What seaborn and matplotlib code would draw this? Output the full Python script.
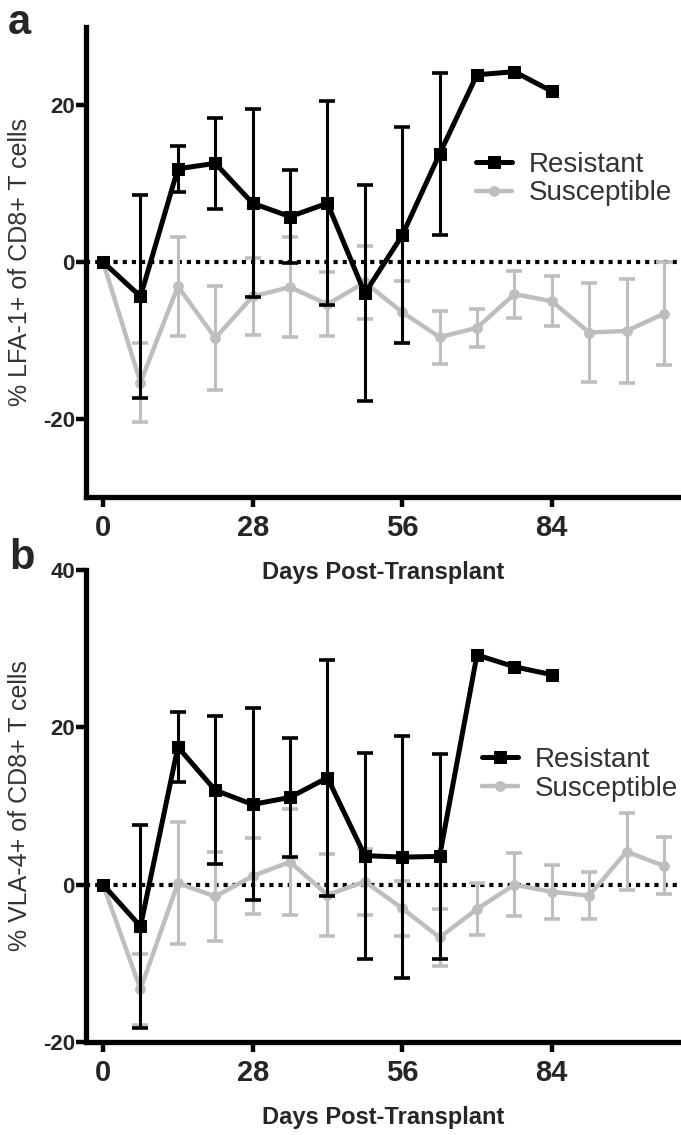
import numpy as np
import pandas as pd
import seaborn as sns
from matplotlib import pyplot as plt

# Matplotlib config
sns.set_style("ticks")
plt.rcParams["font.family"] = ["Liberation Sans", "DejaVu Sans"]
plt.rcParams["axes.unicode_minus"] = False

# Days post-transplant (weekly sampling)
DAYS = [0, 7, 14, 21, 28, 35, 42, 49, 56, 63, 70, 77, 84, 91, 98, 105]
RES_DAYS = DAYS[:13]

# Panel a: % LFA-1+ of CD8+ T cells
LFA_RES_MEAN = [0, -4.4, 11.9, 12.6, 7.5, 5.8, 7.5, -4.0, 3.4, 13.8, 23.9, 24.3, 21.8]
LFA_RES_SEM = [0, 12.9, 2.9, 5.8, 12.0, 5.9, 13.0, 13.8, 13.8, 10.3, 0, 0, 0]
LFA_SUS_MEAN = [0, -15.4, -3.1, -9.7, -4.4, -3.2, -5.4, -2.6, -6.4, -9.6, -8.4,
                -4.1, -5.0, -9.0, -8.8, -6.6]
LFA_SUS_SEM = [0, 5.0, 6.3, 6.6, 4.9, 6.4, 4.1, 4.7, 4.0, 3.4, 2.4, 3.0, 3.2,
               6.3, 6.6, 6.6]

# Panel b: % VLA-4+ of CD8+ T cells
VLA_RES_MEAN = [0, -5.3, 17.5, 12.0, 10.2, 11.1, 13.6, 3.7, 3.5, 3.6, 29.2, 27.7, 26.7]
VLA_RES_SEM = [0, 12.9, 4.4, 9.4, 12.2, 7.6, 15.0, 13.1, 15.4, 13.0, 0, 0, 0]
VLA_SUS_MEAN = [0, -13.3, 0.2, -1.5, 1.1, 2.9, -1.3, 0.4, -3.0, -6.7, -3.1,
                0.0, -0.9, -1.4, 4.2, 2.4]
VLA_SUS_SEM = [0, 4.5, 7.8, 5.6, 4.8, 6.7, 5.2, 4.2, 3.5, 3.6, 3.3, 4.0, 3.4,
               3.0, 4.9, 3.6]

GROUPS = ["Resistant", "Susceptible"]
X_TICKS = [0, 28, 56, 84]
LFA_Y_TICKS = [-20, 0, 20]
VLA_Y_TICKS = [-20, 0, 20, 40]

COLORS = {"Resistant": "black", "Susceptible": "#bebebe"}
MARKERS = {"Resistant": "s", "Susceptible": "o"}


def build_frame(res_mean, res_sem, sus_mean, sus_sem) -> pd.DataFrame:
    """Long-form table of group means and SEM"""
    res = pd.DataFrame({"day": RES_DAYS, "value": res_mean, "sem": res_sem, "group": "Resistant"})
    sus = pd.DataFrame({"day": DAYS, "value": sus_mean, "sem": sus_sem, "group": "Susceptible"})
    return pd.concat([res, sus], ignore_index=True)


def plot_panel(ax, df, ylabel, ylim, yticks, legend_anchor) -> None:
    ax.set_facecolor("none")
    ax.axhline(0, color="black", ls=(0, (1, 1.2)), lw=3, zorder=1)

    handles = {}
    z = 2
    for group in ["Susceptible", "Resistant"]:
        sub = df[df["group"] == group]
        has_err = sub["sem"] > 0
        color = COLORS[group]
        ax.errorbar(sub.loc[has_err, "day"], sub.loc[has_err, "value"],
                    yerr=sub.loc[has_err, "sem"], fmt="none", ecolor=color,
                    elinewidth=2.2, capsize=6, capthick=2.6, zorder=z)
        sns.lineplot(data=sub, x="day", y="value", color=color,
                     marker=MARKERS[group], markersize=8.5 if group == "Resistant" else 7,
                     markeredgecolor=color, lw=3.6 if group == "Resistant" else 3.2,
                     label=group, legend=False, ax=ax, zorder=z + 1)
        handles[group] = ax.lines[-1]
        z += 2

    ax.set_xlim(-3.2, 108.2)
    ax.set_ylim(*ylim)
    ax.set_xticks(X_TICKS)
    ax.set_yticks(yticks)
    ax.tick_params(axis="both", direction="out", length=7, width=3.2, color="black")
    ax.tick_params(axis="x", labelsize=21, pad=5)
    ax.tick_params(axis="y", labelsize=16, pad=1)
    for lab in ax.get_xticklabels() + ax.get_yticklabels():
        lab.set_fontweight("bold")

    sns.despine(ax=ax)
    for side in ["left", "bottom"]:
        ax.spines[side].set_linewidth(3.8)
        ax.spines[side].set_color("black")

    ax.set_xlabel("Days Post-Transplant", fontsize=17, fontweight="bold", labelpad=14)
    ax.set_ylabel(ylabel, fontsize=18, color="#333333")
    ax.yaxis.set_label_coords(-0.09, 0.5)

    ax.legend([handles[g] for g in GROUPS], GROUPS, loc="upper left",
              bbox_to_anchor=legend_anchor, frameon=False, handlelength=1.3,
              handletextpad=0.6, labelspacing=0.1, borderpad=0, borderaxespad=0,
              prop={"size": 20}, labelcolor="#333333")


def main() -> None:
    fig = plt.figure(figsize=(6.81, 11.35), dpi=100)
    ax_a = fig.add_axes([0.1263, 0.5621, 0.8737, 0.4141])
    ax_b = fig.add_axes([0.1263, 0.0819, 0.8737, 0.4159])

    lfa = build_frame(LFA_RES_MEAN, LFA_RES_SEM, LFA_SUS_MEAN, LFA_SUS_SEM)
    vla = build_frame(VLA_RES_MEAN, VLA_RES_SEM, VLA_SUS_MEAN, VLA_SUS_SEM)

    plot_panel(ax_a, lfa, "% LFA-1+ of CD8+ T cells", (-30, 30), LFA_Y_TICKS, (0.655, 0.735))
    plot_panel(ax_b, vla, "% VLA-4+ of CD8+ T cells", (-20, 40), VLA_Y_TICKS, (0.665, 0.625))

    fig.text(0.012, 0.997, "a", fontsize=30, fontweight="bold", va="top")
    fig.text(0.014, 0.526, "b", fontsize=30, fontweight="bold", va="top")

    fig.savefig("out.png", dpi=100)


if __name__ == "__main__":
    main()
